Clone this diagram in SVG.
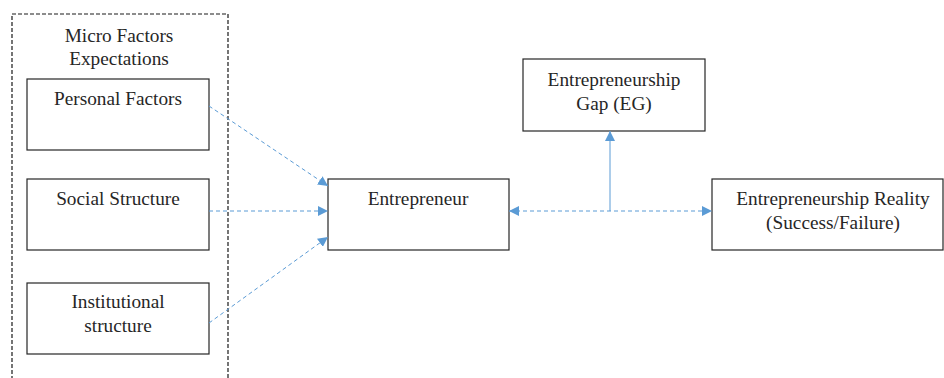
<svg xmlns="http://www.w3.org/2000/svg" width="944" height="378" viewBox="0 0 944 378">
<defs>
<marker id="ah" viewBox="0 0 10 10" refX="10" refY="5" markerWidth="10" markerHeight="10" markerUnits="userSpaceOnUse" orient="auto-start-reverse">
<path d="M0,0 L10,5 L0,10 z" fill="#5B9BD5"/>
</marker>
<style>
.box{fill:#fff;stroke:#262626;stroke-width:1.2}
.t{font-family:"Liberation Serif","Times New Roman",serif;font-size:19.3px;fill:#262626;text-anchor:middle}
.c{fill:none;stroke:#5B9BD5;stroke-width:1}
.d{stroke-dasharray:4 3}
</style>
</defs>
<rect width="944" height="378" fill="#fff"/>
<g id="micro-group">
<path d="M12,380 V14 H228 V380" fill="none" stroke="#1a1a1a" stroke-width="1.2" stroke-dasharray="4 2"/>
<text class="t" x="119" y="42">Micro Factors</text>
<text class="t" x="119" y="65">Expectations</text>
</g>
<g id="personal">
<rect class="box" x="27" y="79" width="182" height="71"/>
<text class="t" x="118" y="105">Personal Factors</text>
</g>
<g id="social">
<rect class="box" x="27" y="179" width="182" height="71"/>
<text class="t" x="118" y="205">Social Structure</text>
</g>
<g id="institutional">
<rect class="box" x="27" y="283" width="182" height="71"/>
<text class="t" x="118" y="308">Institutional</text>
<text class="t" x="118" y="332">structure</text>
</g>
<g id="entrepreneur">
<rect class="box" x="328" y="179" width="181" height="71"/>
<text class="t" x="418" y="205">Entrepreneur</text>
</g>
<g id="gap">
<rect class="box" x="523" y="59" width="182" height="72"/>
<text class="t" x="614" y="86">Entrepreneurship</text>
<text class="t" x="614" y="110">Gap (EG)</text>
</g>
<g id="reality">
<rect class="box" x="712" y="179" width="231" height="71"/>
<text class="t" x="833" y="205">Entrepreneurship Reality</text>
<text class="t" x="833" y="229">(Success/Failure)</text>
</g>
<g id="connectors">
<line class="c d" x1="209" y1="106" x2="328" y2="186" marker-end="url(#ah)"/>
<line class="c d" x1="209" y1="211" x2="328" y2="211" marker-end="url(#ah)"/>
<line class="c d" x1="209" y1="323" x2="328" y2="237" marker-end="url(#ah)"/>
<line class="c d" x1="509" y1="211" x2="712" y2="211" marker-start="url(#ah)" marker-end="url(#ah)"/>
<line class="c" x1="610" y1="211" x2="610" y2="131" marker-end="url(#ah)"/>
</g>
</svg>
